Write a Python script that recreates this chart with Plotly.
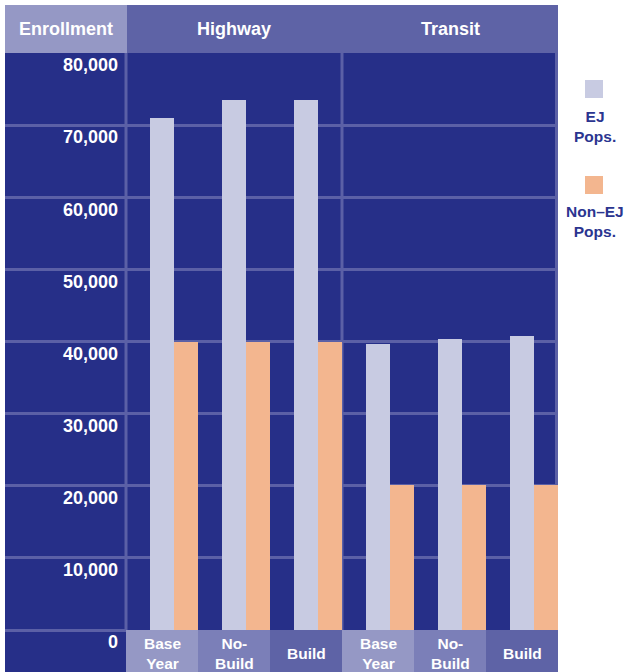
import plotly.graph_objects as go

# ---------------- data ----------------
groups = ["Highway", "Transit"]
categories = ["Base Year", "No-Build", "Build", "Base Year", "No-Build", "Build"]
category_labels = ["Base<br>Year", "No-<br>Build", "Build", "Base<br>Year", "No-<br>Build", "Build"]
series_names = ["EJ<br>Pops.", "Non–EJ<br>Pops."]
ej_values = [71000, 73500, 73500, 39600, 40400, 40800]
non_ej_values = [40000, 40000, 40000, 20100, 20100, 20100]
y_ticks = [0, 10000, 20000, 30000, 40000, 50000, 60000, 70000, 80000]
y_ticktext = [f"{v:,}" for v in y_ticks]
axis_title = "Enrollment"

# ---------------- styles ----------------
DARK = "#262f88"
HEAD_LIGHT = "#9598c5"
HEAD_MID = "#5e63a6"
CELL_COLORS = ["#9598c5", "#7b7fb8", "#5e63a6"]
GRID = "#5b60a6"
EJ_COLOR = "#c8cbe2"
NONEJ_COLOR = "#f3b68f"
LEG_TEXT = "#2b3590"
FONT = "Liberation Sans, Arial, sans-serif"

W, H = 624, 672
L, R, T, B = 5, 558, 53, 630
N = len(categories)
UNIT = 72.0  # px per category
x_left = -0.5 - (126 - L) / UNIT


def px_x(p):
    return (p - L) / (R - L)


def px_y(p):
    return (B - p) / (B - T)


idx = list(range(N))

fig = go.Figure()
fig.add_trace(go.Bar(x=idx, y=ej_values, width=1/3, offset=-1/6,
                     marker=dict(color=EJ_COLOR, line=dict(width=0)),
                     name="EJ", showlegend=False))
fig.add_trace(go.Bar(x=idx, y=non_ej_values, width=1/3, offset=1/6,
                     marker=dict(color=NONEJ_COLOR, line=dict(width=0)),
                     name="Non-EJ", showlegend=False))

shapes = []
annotations = []

# left column background (bottom row cell)
shapes.append(dict(type="rect", xref="paper", yref="paper", x0=0, x1=px_x(126),
                   y0=px_y(H), y1=0, fillcolor=DARK, line=dict(width=0), layer="below"))
# line separating the bottom row in the left column
shapes.append(dict(type="line", xref="paper", yref="paper", x0=0, x1=px_x(126),
                   y0=px_y(630.5), y1=px_y(630.5), line=dict(color=GRID, width=3), layer="above"))
# header cells
shapes.append(dict(type="rect", xref="paper", yref="paper", x0=0, x1=px_x(127),
                   y0=1, y1=px_y(5), fillcolor=HEAD_LIGHT, line=dict(width=0), layer="below"))
shapes.append(dict(type="rect", xref="paper", yref="paper", x0=px_x(127), x1=1,
                   y0=1, y1=px_y(5), fillcolor=HEAD_MID, line=dict(width=0), layer="below"))
annotations.append(dict(text=axis_title, xref="paper", yref="paper", x=px_x(65.5), y=px_y(29),
                        showarrow=False, xanchor="center", yanchor="middle",
                        font=dict(family=FONT, size=18, color="white", weight="bold")))
for gi, g in enumerate(groups):
    annotations.append(dict(text=g, xref="x", yref="paper", x=gi * 3 + 1, y=px_y(29),
                            showarrow=False, xanchor="center", yanchor="middle",
                            font=dict(family=FONT, size=18, color="white", weight="bold")))

# category label cells
for i, lab in enumerate(category_labels):
    shapes.append(dict(type="rect", xref="x", yref="paper", x0=i - 0.5, x1=i + 0.5,
                       y0=px_y(H + 2), y1=0, fillcolor=CELL_COLORS[i % 3],
                       line=dict(width=0), layer="between"))
    annotations.append(dict(text=lab, xref="x", yref="paper", x=i, y=px_y(653),
                            showarrow=False, xanchor="center", yanchor="middle",
                            font=dict(family=FONT, size=15.5, color="white", weight="bold")))

# vertical divider lines
for xv in [-0.5, 2.5]:
    shapes.append(dict(type="line", xref="x", yref="paper", x0=xv, x1=xv, y0=0, y1=1,
                       line=dict(color=GRID, width=3), layer="between"))
shapes.append(dict(type="line", xref="x", yref="paper", x0=5.5, x1=5.5, y0=0, y1=1,
                   line=dict(color=GRID, width=6), layer="between"))

# legend
leg_colors = [EJ_COLOR, NONEJ_COLOR]
leg_square_top = [80, 176]
for name, col, top in zip(series_names, leg_colors, leg_square_top):
    shapes.append(dict(type="rect", xref="paper", yref="paper", x0=px_x(585), x1=px_x(603),
                       y0=px_y(top + 18), y1=px_y(top), fillcolor=col, line=dict(width=0)))
    annotations.append(dict(text=name, xref="paper", yref="paper", x=px_x(595), y=px_y(top + 46),
                            showarrow=False, xanchor="center", yanchor="middle",
                            font=dict(family=FONT, size=15.5, color=LEG_TEXT, weight="bold")))

fig.update_layout(
    width=W, height=H,
    margin=dict(l=L, r=W - R, t=T, b=H - B, pad=0),
    paper_bgcolor="white", plot_bgcolor=DARK,
    barmode="overlay", bargap=0,
    showlegend=False,
    shapes=shapes, annotations=annotations,
    xaxis=dict(range=[x_left, N - 0.5], showgrid=False, zeroline=False,
               showticklabels=False, ticks="", fixedrange=True),
    yaxis=dict(range=[0, 80000], tickvals=y_ticks, ticktext=y_ticktext,
               anchor="free", position=px_x(126),
               showgrid=True, gridcolor=GRID, gridwidth=3, zeroline=False,
               showline=False, ticks="", ticklabelshift=12, ticklabelstandoff=8,
               tickfont=dict(family=FONT, size=18, color="white", weight="bold")),
)

fig.write_html("out.html")
